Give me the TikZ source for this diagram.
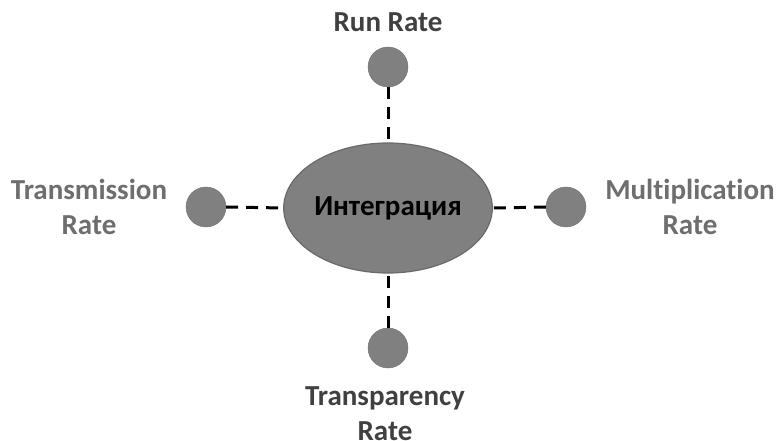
\documentclass[tikz,border=0pt]{standalone}
\usepackage{fontspec}
\setmainfont{Carlito}[Ligatures={NoCommon}]
\usetikzlibrary{shapes.geometric}
\definecolor{hubfill}{HTML}{808080}
\definecolor{hubedge}{HTML}{6A6A6A}
\definecolor{darklbl}{HTML}{404040}
\definecolor{lightlbl}{HTML}{6E6E6E}
\begin{document}
\begin{tikzpicture}[x=1pt,y=-1pt,
  hub/.style={ellipse,draw=hubedge,line width=1.2pt,fill=hubfill,minimum width=198pt,minimum height=130pt,inner sep=0pt,font=\bfseries\fontsize{29}{32}\selectfont,text=black},
  dot/.style={circle,fill=hubfill,draw=hubfill!90!black,line width=0.4pt,minimum size=40pt,inner sep=0pt},
  lbl/.style={font=\bfseries\fontsize{29}{35}\selectfont,align=center},
  link/.style={draw=black,line width=3pt,dash pattern=on 12pt off 8pt}]
\useasboundingbox[fill=white] (0,0) rectangle (780,441);
\node[hub] (h) at (388,208) {Интеграция};
\node[dot] (t) at (388,67) {};
\node[dot] (l) at (206,207) {};
\node[dot] (r) at (566,207) {};
\node[dot] (b) at (388,348) {};
\draw[link] (t.south) -- (h.north);
\draw[link] (l.east) -- (h.west);
\draw[link] (r.west) -- (h.east);
\draw[link] (b.north) -- (h.south);
\node[lbl,text=darklbl] (tl) at (388,22) {Run Rate};
\node[lbl,text=lightlbl] (ll) at (89,207) {Transmission\\Rate};
\node[lbl,text=lightlbl] (rl) at (690,207) {Multiplication\\Rate};
\node[lbl,text=darklbl] (bl) at (385,414) {Transparency\\Rate};
\end{tikzpicture}
\end{document}
